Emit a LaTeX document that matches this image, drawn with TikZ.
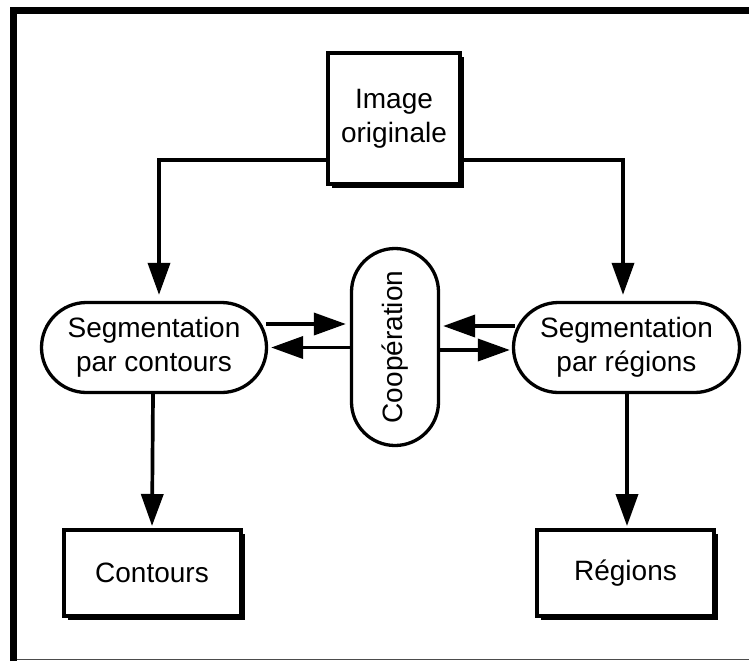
\documentclass[tikz,border=0pt]{standalone}
\usepackage{fontspec}
\setmainfont{Liberation Sans}
\usetikzlibrary{shapes.misc,arrows.meta,calc,shadows}
\begin{document}
\begin{tikzpicture}[x=1pt,y=-1pt,
  every node/.style={font=\fontsize{28}{34}\selectfont, align=center, inner sep=0pt},
  boxnode/.style={draw, line width=4pt, fill=white, rectangle,
    drop shadow={shadow xshift=4pt, shadow yshift=-4pt, fill=black, opacity=1}},
  pill/.style={draw, line width=3.3pt, rounded rectangle, fill=white},
  arr/.style={line width=3.7pt, -{Triangle[length=32pt,width=22pt]}}]
\useasboundingbox (0,0) rectangle (749,661);
\fill[white] (0,0) rectangle (749,661);
% frame
\draw[line width=7pt] (13.5,661) -- (13.5,10.5) -- (749,10.5);
\draw[line width=1.2pt, black!70] (17,659.5) -- (749,659.5);
% nodes
\node[boxnode, minimum width=132pt, minimum height=131pt] (orig) at (394,118.5) {Image\\originale};
\node[pill, minimum width=225pt, minimum height=90pt] (cont) at (154,347.5) {Segmentation\\par contours};
\node[pill, minimum width=226pt, minimum height=90pt] (reg) at (626.5,347.5) {Segmentation\\par régions};
\node[draw, line width=3.3pt, rounded corners=43.5pt, fill=white, minimum width=87pt, minimum height=197pt] (coop) at (395,347) {\rotatebox{90}{Coopération}};
\node[boxnode, minimum width=177pt, minimum height=86pt] (ctr) at (152,573) {Contours};
\node[boxnode, minimum width=177pt, minimum height=86pt] (rgb) at (625.5,573) {Régions};
% connectors from top box
\coordinate (o1) at ($(orig.west)+(0,41.5)$);
\coordinate (o2) at ($(orig.east)+(0,41.5)$);
\coordinate (c1) at ($(cont.north)+(5,0)$);
\coordinate (c2) at ($(reg.north)+(-3.5,0)$);
\draw[arr, shorten >=6pt] (o1) -| (c1);
\draw[arr, shorten >=6pt] (o2) -| (c2);
% cooperation arrows
\coordinate (l1) at ($(cont.east)+(-2,-23.5)$);
\draw[arr, shorten >=4pt] (l1) -- (l1 -| coop.west);
\draw[arr, shorten >=3pt] (coop.west |- cont.east) -- (cont.east);
\coordinate (r1) at ($(reg.west)+(3,-21.5)$);
\draw[arr, shorten >=3pt] (r1) -- (r1 -| coop.east);
\coordinate (r2) at ($(reg.west)+(0,2.5)$);
\draw[arr, shorten >=2pt] (coop.east |- r2) -- (r2);
% down arrows
\draw[arr, shorten >=2pt] ($(cont.south)+(-1,0)$) -- (ctr.north);
\draw[arr, shorten >=2pt] ($(reg.south)+(0.5,0)$) -- ($(rgb.north)+(1.5,0)$);
\end{tikzpicture}
\end{document}
